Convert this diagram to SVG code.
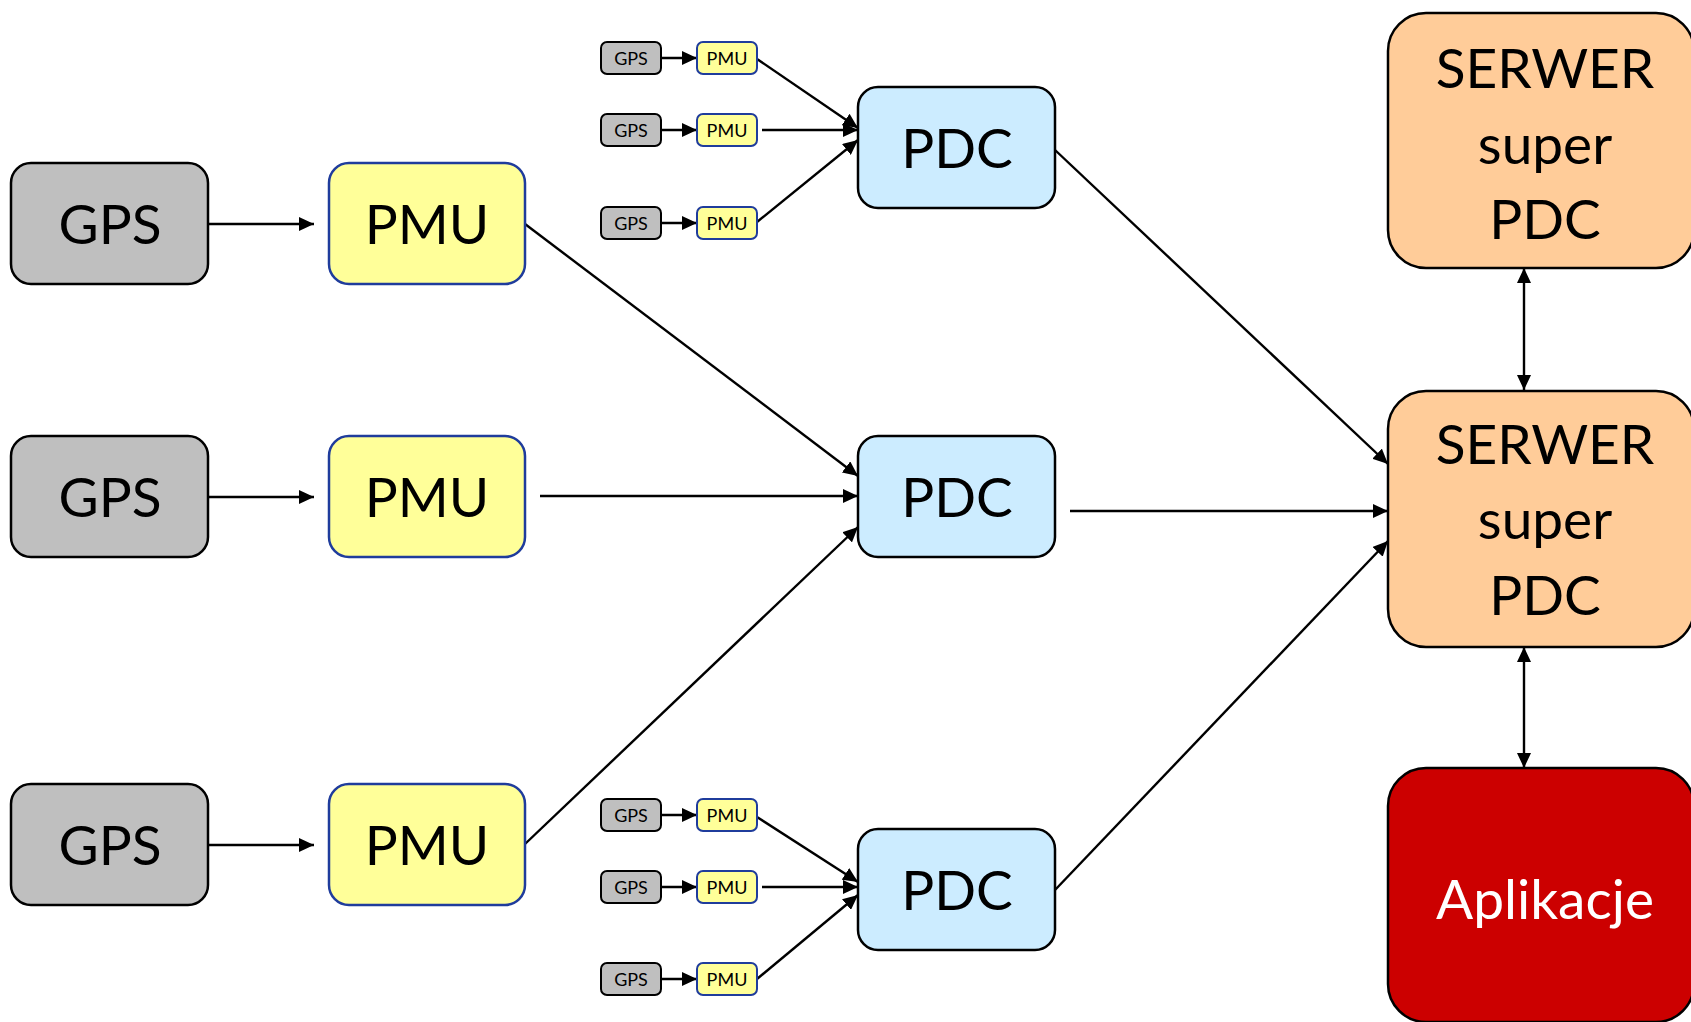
<svg xmlns="http://www.w3.org/2000/svg" width="1691" height="1022" viewBox="0 0 1691 1022">
<style>
text{font-family:Lato,"Open Sans",sans-serif;text-anchor:middle;fill:#000}
.big{font-size:55px}
.sm{font-size:18px}
.gps{fill:#BFBFBF;stroke:#000;stroke-width:2.5}
.pmu{fill:#FFFF99;stroke:#1F3C9C;stroke-width:2.5}
.pdc{fill:#CCECFF;stroke:#000;stroke-width:2.5}
.srv{fill:#FFCC99;stroke:#000;stroke-width:2.5}
.app{fill:#CC0000;stroke:#000;stroke-width:2.5}
.sgps{fill:#BFBFBF;stroke:#000;stroke-width:2}
.spmu{fill:#FFFF99;stroke:#1F3C9C;stroke-width:2}
.c line{stroke:#000;stroke-width:2.4;marker-end:url(#ah)}
.c line.d{marker-start:url(#ah)}
</style>
<defs>
<marker id="ah" markerUnits="userSpaceOnUse" markerWidth="15" markerHeight="14" refX="15" refY="7" orient="auto-start-reverse"><path d="M0,0 L15,7 L0,14 z" fill="#000"/></marker>
</defs>
<rect width="1691" height="1022" fill="#fff"/>

<g class="c" id="connectors">
<line x1="208" y1="224" x2="314" y2="224"/>
<line x1="208" y1="497" x2="314" y2="497"/>
<line x1="208" y1="845" x2="314" y2="845"/>
<line x1="525" y1="224" x2="858" y2="476"/>
<line x1="540" y1="496" x2="858" y2="496"/>
<line x1="525" y1="844" x2="858" y2="527"/>
<line x1="1055" y1="150" x2="1388" y2="464"/>
<line x1="1070" y1="511" x2="1388" y2="511"/>
<line x1="1055" y1="890" x2="1388" y2="541"/>
<line class="d" x1="1524" y1="268" x2="1524" y2="390"/>
<line class="d" x1="1524" y1="647" x2="1524" y2="768"/>
<line x1="661" y1="58" x2="697" y2="58"/>
<line x1="661" y1="130" x2="697" y2="130"/>
<line x1="661" y1="223" x2="697" y2="223"/>
<line x1="757" y1="59" x2="858" y2="128"/>
<line x1="762" y1="130" x2="858" y2="130"/>
<line x1="757" y1="222" x2="858" y2="140"/>
<line x1="661" y1="815" x2="697" y2="815"/>
<line x1="661" y1="887" x2="697" y2="887"/>
<line x1="661" y1="979" x2="697" y2="979"/>
<line x1="757" y1="817" x2="858" y2="882"/>
<line x1="762" y1="887" x2="858" y2="887"/>
<line x1="757" y1="979" x2="858" y2="895"/>
</g>

<g id="gps1"><rect class="gps" x="11" y="163" width="197" height="121" rx="20"/><text class="big" x="110" y="244">GPS</text></g>
<g id="gps2"><rect class="gps" x="11" y="436" width="197" height="121" rx="20"/><text class="big" x="110" y="517">GPS</text></g>
<g id="gps3"><rect class="gps" x="11" y="784" width="197" height="121" rx="20"/><text class="big" x="110" y="865">GPS</text></g>

<g id="pmu1"><rect class="pmu" x="329" y="163" width="196" height="121" rx="20"/><text class="big" x="427" y="244">PMU</text></g>
<g id="pmu2"><rect class="pmu" x="329" y="436" width="196" height="121" rx="20"/><text class="big" x="427" y="517">PMU</text></g>
<g id="pmu3"><rect class="pmu" x="329" y="784" width="196" height="121" rx="20"/><text class="big" x="427" y="865">PMU</text></g>

<g id="pdc1"><rect class="pdc" x="858" y="87" width="197" height="121" rx="20"/><text class="big" x="957" y="168">PDC</text></g>
<g id="pdc2"><rect class="pdc" x="858" y="436" width="197" height="121" rx="20"/><text class="big" x="957" y="517">PDC</text></g>
<g id="pdc3"><rect class="pdc" x="858" y="829" width="197" height="121" rx="20"/><text class="big" x="957" y="910">PDC</text></g>

<g id="srv1"><rect class="srv" x="1388" y="13" width="306" height="255" rx="38"/><text class="big" x="1545" y="88">SERWER</text><text class="big" x="1545" y="164">super</text><text class="big" x="1545" y="239">PDC</text></g>
<g id="srv2"><rect class="srv" x="1388" y="391" width="306" height="256" rx="38"/><text class="big" x="1545" y="464">SERWER</text><text class="big" x="1545" y="539">super</text><text class="big" x="1545" y="615">PDC</text></g>
<g id="app"><rect class="app" x="1388" y="768" width="306" height="254" rx="38"/><text class="big" x="1545" y="919" style="fill:#fff">Aplikacje</text></g>

<g id="sg1"><rect class="sgps" x="601" y="42" width="60" height="32" rx="6"/><text class="sm" x="631" y="65">GPS</text></g>
<g id="sp1"><rect class="spmu" x="697" y="42" width="60" height="32" rx="6"/><text class="sm" x="727" y="65">PMU</text></g>
<g id="sg2"><rect class="sgps" x="601" y="114" width="60" height="32" rx="6"/><text class="sm" x="631" y="137">GPS</text></g>
<g id="sp2"><rect class="spmu" x="697" y="114" width="60" height="32" rx="6"/><text class="sm" x="727" y="137">PMU</text></g>
<g id="sg3"><rect class="sgps" x="601" y="207" width="60" height="32" rx="6"/><text class="sm" x="631" y="230">GPS</text></g>
<g id="sp3"><rect class="spmu" x="697" y="207" width="60" height="32" rx="6"/><text class="sm" x="727" y="230">PMU</text></g>

<g id="sg4"><rect class="sgps" x="601" y="799" width="60" height="32" rx="6"/><text class="sm" x="631" y="822">GPS</text></g>
<g id="sp4"><rect class="spmu" x="697" y="799" width="60" height="32" rx="6"/><text class="sm" x="727" y="822">PMU</text></g>
<g id="sg5"><rect class="sgps" x="601" y="871" width="60" height="32" rx="6"/><text class="sm" x="631" y="894">GPS</text></g>
<g id="sp5"><rect class="spmu" x="697" y="871" width="60" height="32" rx="6"/><text class="sm" x="727" y="894">PMU</text></g>
<g id="sg6"><rect class="sgps" x="601" y="963" width="60" height="32" rx="6"/><text class="sm" x="631" y="986">GPS</text></g>
<g id="sp6"><rect class="spmu" x="697" y="963" width="60" height="32" rx="6"/><text class="sm" x="727" y="986">PMU</text></g>
</svg>
